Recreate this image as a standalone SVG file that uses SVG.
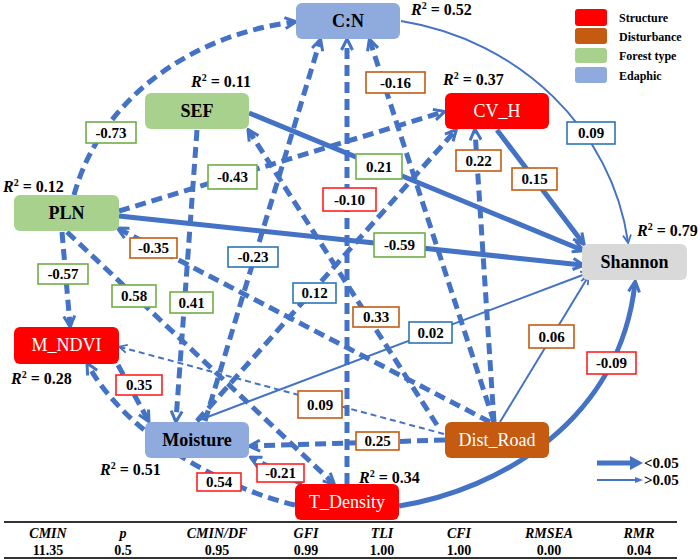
<svg xmlns="http://www.w3.org/2000/svg" width="700" height="560" viewBox="0 0 700 560">
<defs>
<style>
text{font-family:'Liberation Serif','Times New Roman',serif}
.c{fill:none;stroke:#4472c4}
.tk{stroke-width:5}
.tn{stroke-width:2}
.dk{stroke-dasharray:11 6}
.dn{stroke-dasharray:6 4}
.ak{marker-end:url(#ak)}
.an{marker-end:url(#an)}
.lb rect{fill:#fff;stroke-width:1.6}
.lb text{font-weight:bold;font-size:15px;text-anchor:middle;fill:#000}
.g{stroke:#70ad47}
.o{stroke:#c55a11}
.r{stroke:#ff2020}
.b{stroke:#2e75b6}
.nb{font-weight:bold;font-size:18px;text-anchor:middle;fill:#000}
.nw{font-size:18px;text-anchor:middle;fill:#fff}
.r2{font-weight:bold;font-size:16px;fill:#000}
.lg{font-weight:bold;font-size:12px;fill:#000}
.th{font-weight:bold;font-style:italic;font-size:14px;text-anchor:middle;fill:#000}
.tv{font-weight:bold;font-size:14px;text-anchor:middle;fill:#000}
.sig{font-weight:bold;font-size:15px;fill:#000}
</style>
<marker id="ak" viewBox="0 0 14 14" markerWidth="14" markerHeight="14" refX="11" refY="7" orient="auto" markerUnits="userSpaceOnUse">
<path d="M2,1.5 L13,7 L2,12.5" fill="none" stroke="#4472c4" stroke-width="3"/>
</marker>
<marker id="an" viewBox="0 0 10 10" markerWidth="10" markerHeight="10" refX="8" refY="5" orient="auto" markerUnits="userSpaceOnUse">
<path d="M1,1 L9,5 L1,9" fill="none" stroke="#4472c4" stroke-width="1.8"/>
</marker>
</defs>
<rect x="0" y="0" width="700" height="560" fill="#fff"/>

<g id="connectors">
<path class="c tk dk ak" d="M74,195 C100,100 190,35 294,22"/>
<path class="c tk dk ak" d="M347,484 L347,41"/>
<path class="c tk dk ak" d="M494,422 L370,41"/>
<path class="c tk dk ak" d="M205,421 L320,41"/>
<path class="c tk dk ak" d="M119,211 L443,112"/>
<path class="c tk dk ak" d="M494,422 L475,131"/>
<path class="c tk dk ak" d="M197,421 L455,131"/>
<path class="c tk dk ak" d="M437,425 L249,131"/>
<path class="c tk dk ak" d="M490,422 L119,229"/>
<path class="c tk dk ak" d="M62,232 L70,325"/>
<path class="c tk dk ak" d="M67,232 L333,483"/>
<path class="c tk dk ak" d="M197,130 L176,420"/>
<path class="c tk dk ak" d="M118,365 L148,420"/>
<path class="c tk dk ak" d="M302,484 L252,458"/>
<path class="c tk dk ak" d="M295,505 C230,490 130,440 88,365"/>
<path class="c tk dk ak" d="M445,440 L251,446"/>
<path class="c tn dn an" d="M444,434 L120,347"/>
<path class="c tk ak" d="M249,113 L582,250"/>
<path class="c tk ak" d="M119,216 L582,265"/>
<path class="c tk ak" d="M497,130 L583,243"/>
<path class="c tk ak" d="M399,506 C500,490 620,420 635,283"/>
<path class="c tn an" d="M401,21 C520,40 612,130 628,242"/>
<path class="c tn an" d="M197,421 L588,273"/>
<path class="c tn an" d="M500,422 L588,277"/>

<g class="lb"><rect class="g" x="86" y="122" width="50" height="21"/><text x="111" y="138">-0.73</text></g>
<g class="lb"><rect class="b" x="567" y="122" width="48" height="22"/><text x="591" y="138">0.09</text></g>
<g class="lb"><rect class="o" x="366" y="72" width="59" height="21"/><text x="395.5" y="88">-0.16</text></g>
<g class="lb"><rect class="o" x="456" y="150" width="45" height="21"/><text x="478.5" y="166">0.22</text></g>
<g class="lb"><rect class="o" x="512" y="168" width="45" height="22"/><text x="534.5" y="184">0.15</text></g>
<g class="lb"><rect class="g" x="356" y="154" width="46" height="25"/><text x="379" y="172">0.21</text></g>
<g class="lb"><rect class="g" x="208" y="165" width="49" height="24"/><text x="232.5" y="182">-0.43</text></g>
<g class="lb"><rect class="r" x="323" y="188" width="53" height="23"/><text x="349.5" y="205">-0.10</text></g>
<g class="lb"><rect class="g" x="374" y="233" width="51" height="24"/><text x="399.5" y="250">-0.59</text></g>
<g class="lb"><rect class="o" x="130" y="238" width="47" height="20"/><text x="153.5" y="253">-0.35</text></g>
<g class="lb"><rect class="b" x="228" y="247" width="50" height="20"/><text x="253" y="262">-0.23</text></g>
<g class="lb"><rect class="b" x="293" y="283" width="43" height="20"/><text x="314.5" y="298">0.12</text></g>
<g class="lb"><rect class="o" x="353" y="307" width="46" height="20"/><text x="376" y="322">0.33</text></g>
<g class="lb"><rect class="b" x="409" y="322" width="43" height="21"/><text x="430.5" y="338">0.02</text></g>
<g class="lb"><rect class="o" x="529" y="325" width="45" height="23"/><text x="551.5" y="342">0.06</text></g>
<g class="lb"><rect class="r" x="587" y="352" width="49" height="22"/><text x="611.5" y="368">-0.09</text></g>
<g class="lb"><rect class="g" x="38" y="264" width="50" height="20"/><text x="63" y="279">-0.57</text></g>
<g class="lb"><rect class="g" x="112" y="285" width="44" height="22"/><text x="134" y="301">0.58</text></g>
<g class="lb"><rect class="g" x="170" y="292" width="43" height="21"/><text x="191.5" y="308">0.41</text></g>
<g class="lb"><rect class="r" x="116" y="375" width="46" height="20"/><text x="139" y="390">0.35</text></g>
<g class="lb"><rect class="o" x="298" y="391" width="44" height="27"/><text x="320" y="410">0.09</text></g>
<g class="lb"><rect class="o" x="356" y="432" width="43" height="18"/><text x="377.5" y="446">0.25</text></g>
<g class="lb"><rect class="r" x="197" y="473" width="44" height="18"/><text x="219" y="487">0.54</text></g>
<g class="lb"><rect class="r" x="257" y="464" width="47" height="18"/><text x="280.5" y="478">-0.21</text></g>
</g>

<g id="node-CN"><rect x="296" y="3" width="104" height="36" rx="6" fill="#8faadc"/><text class="nb" x="348" y="27">C:N</text></g>
<g id="node-SEF"><rect x="145" y="93" width="104" height="36" rx="6" fill="#a9d18e"/><text class="nb" x="197" y="117">SEF</text></g>
<g id="node-CVH"><rect x="445" y="93" width="104" height="36" rx="6" fill="#ff0000"/><text class="nw" x="497" y="117">CV_H</text></g>
<g id="node-PLN"><rect x="14" y="195" width="105" height="36" rx="6" fill="#a9d18e"/><text class="nb" x="66.5" y="219">PLN</text></g>
<g id="node-Shannon"><rect x="582" y="244" width="105" height="36" rx="6" fill="#d9d9d9"/><text class="nb" x="634.5" y="268">Shannon</text></g>
<g id="node-MNDVI"><rect x="14" y="327" width="105" height="37" rx="6" fill="#ff0000"/><text class="nw" x="66.5" y="351">M_NDVI</text></g>
<g id="node-Moisture"><rect x="145" y="422" width="104" height="36" rx="6" fill="#8faadc"/><text class="nb" x="197" y="446">Moisture</text></g>
<g id="node-DistRoad"><rect x="445" y="422" width="104" height="36" rx="6" fill="#c55a11"/><text class="nw" x="497" y="446">Dist_Road</text></g>
<g id="node-TDensity"><rect x="295" y="484" width="104" height="36" rx="6" fill="#ff0000"/><text class="nw" x="347" y="508">T_Density</text></g>

<g id="r2-labels">
<text class="r2" x="411" y="15"><tspan font-style="italic">R</tspan><tspan font-size="10" dy="-6">2</tspan><tspan dy="6"> = 0.52</tspan></text>
<text class="r2" x="191" y="87"><tspan font-style="italic">R</tspan><tspan font-size="10" dy="-6">2</tspan><tspan dy="6"> = 0.11</tspan></text>
<text class="r2" x="443" y="85"><tspan font-style="italic">R</tspan><tspan font-size="10" dy="-6">2</tspan><tspan dy="6"> = 0.37</tspan></text>
<text class="r2" x="3" y="192"><tspan font-style="italic">R</tspan><tspan font-size="10" dy="-6">2</tspan><tspan dy="6"> = 0.12</tspan></text>
<text class="r2" x="637" y="236"><tspan font-style="italic">R</tspan><tspan font-size="10" dy="-6">2</tspan><tspan dy="6"> = 0.79</tspan></text>
<text class="r2" x="11" y="384"><tspan font-style="italic">R</tspan><tspan font-size="10" dy="-6">2</tspan><tspan dy="6"> = 0.28</tspan></text>
<text class="r2" x="100" y="475"><tspan font-style="italic">R</tspan><tspan font-size="10" dy="-6">2</tspan><tspan dy="6"> = 0.51</tspan></text>
<text class="r2" x="359" y="483"><tspan font-style="italic">R</tspan><tspan font-size="10" dy="-6">2</tspan><tspan dy="6"> = 0.34</tspan></text>
</g>

<g id="legend">
<rect x="575" y="9" width="32" height="17" rx="3" fill="#ff0000"/>
<rect x="575" y="28" width="32" height="16" rx="3" fill="#c55a11"/>
<rect x="575" y="48" width="32" height="15" rx="3" fill="#a9d18e"/>
<rect x="575" y="67" width="32" height="16" rx="3" fill="#8faadc"/>
<text class="lg" x="619" y="22">Structure</text>
<text class="lg" x="619" y="41">Disturbance</text>
<text class="lg" x="619" y="60">Forest type</text>
<text class="lg" x="619" y="80">Edaphic</text>
<line x1="597" y1="463" x2="632" y2="463" stroke="#4472c4" stroke-width="5"/>
<path d="M630,456 L643,463 L630,470 Z" fill="#4472c4"/>
<line x1="597" y1="480" x2="636" y2="480" stroke="#4472c4" stroke-width="2"/>
<path d="M635,477 L643,480 L635,483 Z" fill="#4472c4"/>
<text class="sig" x="644" y="468">&lt;0.05</text>
<text class="sig" x="644" y="485">&gt;0.05</text>
</g>

<g id="fit-table">
<line x1="4" y1="522" x2="677" y2="522" stroke="#333" stroke-width="2"/>
<line x1="4" y1="558" x2="677" y2="558" stroke="#333" stroke-width="2"/>
<text class="th" x="48" y="538">CMIN</text>
<text class="th" x="123" y="538">p</text>
<text class="th" x="217" y="538">CMIN/DF</text>
<text class="th" x="306" y="538">GFI</text>
<text class="th" x="382" y="538">TLI</text>
<text class="th" x="459" y="538">CFI</text>
<text class="th" x="549" y="538">RMSEA</text>
<text class="th" x="639" y="538">RMR</text>
<text class="tv" x="48" y="555">11.35</text>
<text class="tv" x="123" y="555">0.5</text>
<text class="tv" x="217" y="555">0.95</text>
<text class="tv" x="306" y="555">0.99</text>
<text class="tv" x="382" y="555">1.00</text>
<text class="tv" x="459" y="555">1.00</text>
<text class="tv" x="549" y="555">0.00</text>
<text class="tv" x="639" y="555">0.04</text>
</g>
</svg>
